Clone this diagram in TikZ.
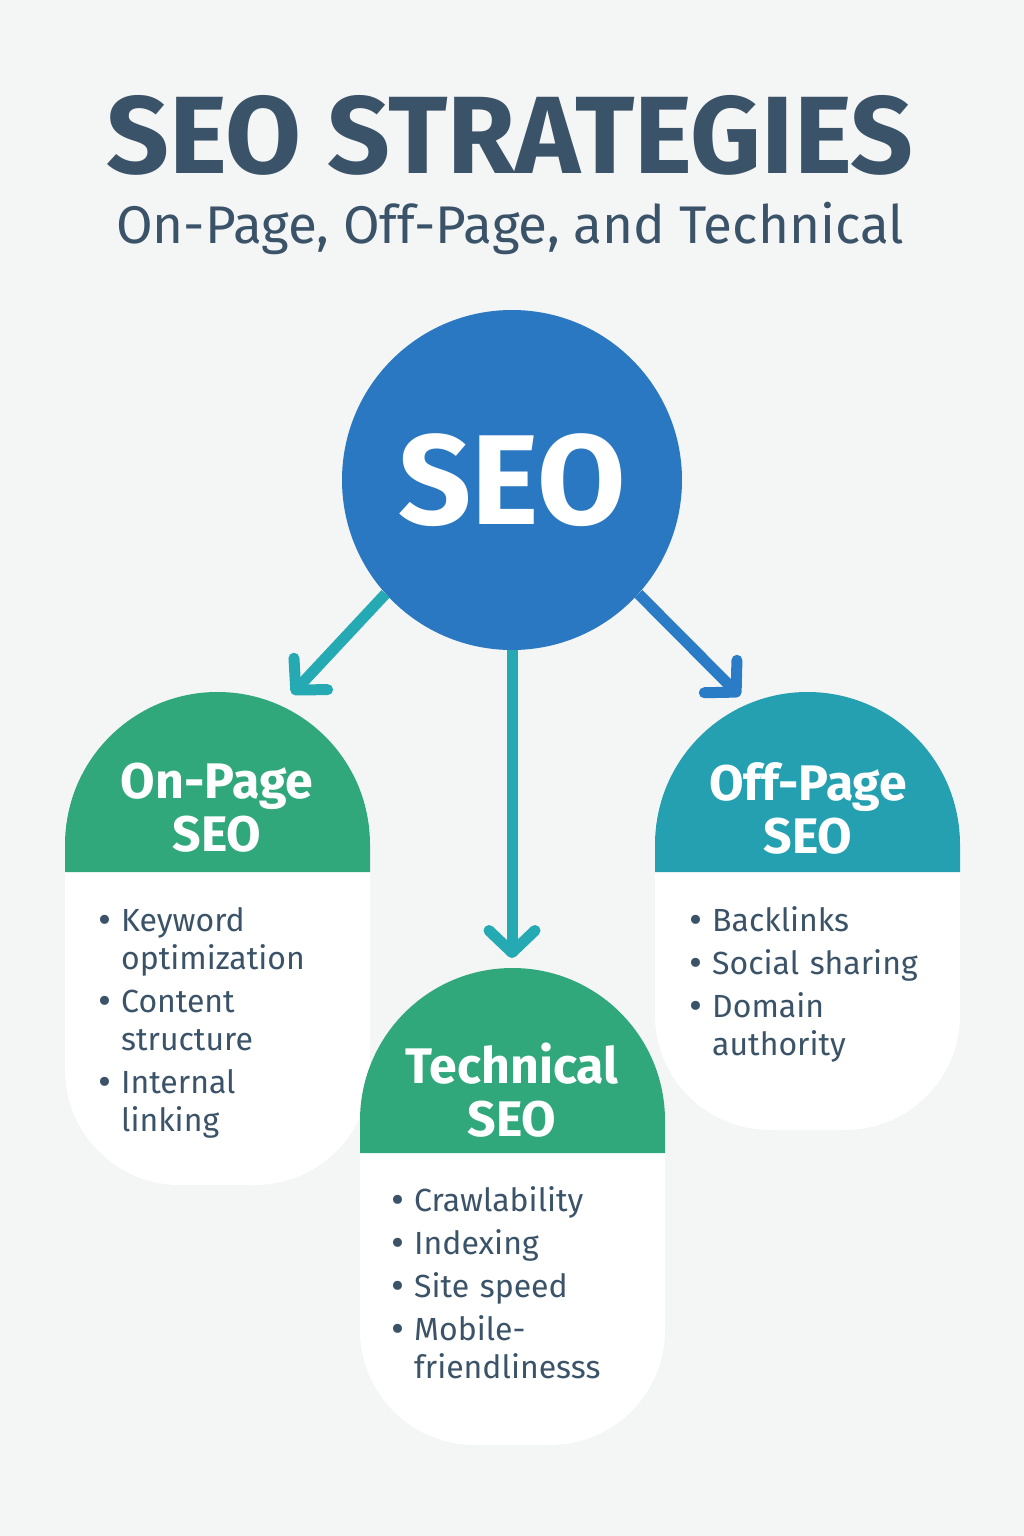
\documentclass[tikz,border=0pt]{standalone}
\usepackage{fontspec}
\setmainfont{Fira Sans}
\usepackage{enumitem}
\usetikzlibrary{arrows.meta, positioning}
\definecolor{bgcol}{HTML}{F4F5F5}
\definecolor{slate}{HTML}{3B5368}
\definecolor{seoblue}{HTML}{2A78C1}
\definecolor{cardgreen}{HTML}{30A87C}
\definecolor{cardteal}{HTML}{24A0B0}
\definecolor{arrowteal}{HTML}{25AAB4}
\definecolor{arrowblue}{HTML}{2B7CC6}
\tikzset{
  arrow/.style = {line width=11pt, -{Straight Barb[length=22pt,width=46pt,round]}},
  head/.style  = {text=white, font=\fontsize{50}{53}\selectfont\bfseries, align=center},
  items/.style = {text=slate, anchor=north west, text width=215pt,
                  font=\fontsize{32}{38}\selectfont, inner sep=0pt},
}
\newcommand{\card}[6]{% x1, x2, top, band, bottom, colour
  \fill[white, rounded corners=115pt] (#1,#4-150) -- (#1,#5) -- (#2,#5) -- (#2,#4-150) -- cycle;
  \fill[#6] (#1,#4) -- (#1,#3+152.5) arc[start angle=180, end angle=0, radius=152.5pt]
    -- (#2,#4) -- cycle;
}
\newlist{seolist}{itemize}{1}
\setlist[seolist]{label=\raisebox{-.15ex}{\scalebox{1.25}{\textbullet}}, leftmargin=24pt,
  labelsep=10pt, itemsep=5pt, topsep=0pt, parsep=0pt}

\begin{document}
\begin{tikzpicture}[x=1pt, y=-1pt]
  \fill[bgcol] (0,0) rectangle (1024,1536);

  % titles
  \node (title) [text=slate, font=\fontsize{110}{112}\selectfont\bfseries] at (510,135) {SEO STRATEGIES};
  \node (subtitle) [text=slate, font=\fontsize{53}{55}\selectfont] at (510,228) {On-Page, Off-Page, and Technical};

  % centre circle
  \node (seo) [circle, fill=seoblue, minimum size=340pt, text=white,
               font=\fontsize{128}{130}\selectfont\bfseries] at (512,480) {SEO};

  % cards
  \card{65}{370}{692}{872}{1185}{cardgreen}
  \card{360}{665}{968}{1153}{1445}{cardgreen}
  \card{655}{960}{692}{872}{1130}{cardteal}

  \node (onpage)    [head] at (217,808)  {On-Page\\SEO};
  \node (technical) [head] at (512,1090) {Technical\\SEO};
  \node (offpage)   [head] at (808,808)  {Off-Page\\SEO};

  \coordinate (onpagetip)    at (292,694);
  \coordinate (technicaltip) at (512,958);
  \coordinate (offpagetip)   at (740,696);

  \node (onpagelist) [items] at (97,893) {\begin{seolist}
      \item Keyword optimization
      \item Content structure
      \item Internal linking
    \end{seolist}};
  \node (technicallist) [items] at (390,1173) {\begin{seolist}
      \item Crawlability
      \item Indexing
      \item Site speed
      \item Mobile-\\friendlinesss
    \end{seolist}};
  \node (offpagelist) [items, text width=250pt] at (688,893) {\begin{seolist}
      \item Backlinks
      \item Social sharing
      \item Domain\\authority
    \end{seolist}};

  % connectors
  \draw [arrow, arrowteal] (seo.222) -- (onpagetip);
  \draw [arrow, arrowteal] (seo.south) -- (technicaltip);
  \draw [arrow, arrowblue] (seo.318) -- (offpagetip);
\end{tikzpicture}
\end{document}
